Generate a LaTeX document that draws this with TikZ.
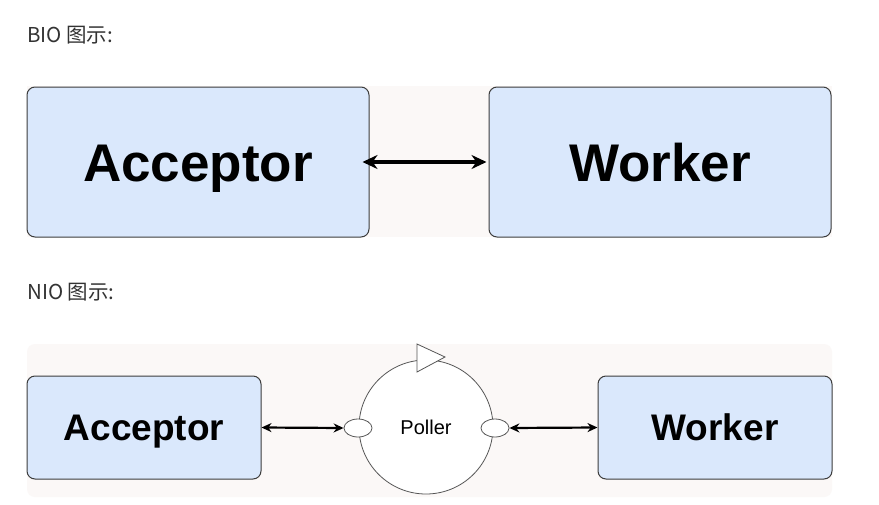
\documentclass[tikz,border=0pt]{standalone}
\usepackage{fontspec}
\setmainfont{Liberation Sans}
\newfontfamily\cjkfont{Noto Sans CJK SC}
\usetikzlibrary{arrows.meta,shapes.geometric}
\definecolor{boxfill}{HTML}{DAE8FC}
\definecolor{boxline}{HTML}{3C3C3C}
\definecolor{bgpink}{HTML}{FBF8F7}
\definecolor{txtgrey}{HTML}{333333}
\definecolor{circline}{HTML}{555555}
\tikzset{
  bigbox/.style={draw=boxline, line width=1pt, fill=boxfill, rounded corners=8pt, inner sep=0pt},
  heading/.style={anchor=base west, inner sep=0pt, text=txtgrey, font=\cjkfont\fontsize{20.5}{24}\selectfont},
  bigtext/.style={font=\bfseries\fontsize{53}{60}\selectfont, text height=38pt, text depth=0pt},
  midtext/.style={font=\bfseries\fontsize{37}{42}\selectfont, text height=26.5pt, text depth=0pt},
  bigarrow/.style={draw=black, line width=3.6pt, arrows={Stealth[length=15pt,width=14pt]-Stealth[length=15pt,width=14pt]}},
  smallarrow/.style={draw=black, line width=2.2pt, arrows={Stealth[length=10pt,width=9pt]-Stealth[length=10pt,width=9pt]}},
  port/.style={ellipse, draw=circline, line width=0.8pt, fill=white, minimum width=28pt, minimum height=18pt, inner sep=0pt}
}
\begin{document}
\begin{tikzpicture}[x=1pt, y=-1pt]
\useasboundingbox[fill=white] (0,0) rectangle (879,504);
% headings
\node[heading] (bio) at (27,42) {BIO 图示:};
\node[heading] (nio) at (27,299) {NIO 图示:};
% backgrounds
\fill[bgpink] (27,86) rectangle (832,237);
\fill[bgpink, rounded corners=8pt] (27,344) rectangle (832,497);
% BIO
\node[bigbox, bigtext, minimum width=342pt, minimum height=150pt] (acc1) at (198,162) {Acceptor};
\node[bigbox, bigtext, minimum width=342pt, minimum height=150pt] (work1) at (660,162) {Worker};
\draw[bigarrow, shorten <=-7pt, shorten >=2pt] (acc1.east) -- (work1.west);
% NIO
\node[bigbox, midtext, minimum width=234pt, minimum height=103pt] (acc2) at (144,427.5) {Acceptor};
\node[bigbox, midtext, minimum width=234pt, minimum height=103pt] (work2) at (715,427.5) {Worker};
\node[circle, draw=circline, line width=0.8pt, fill=white, minimum size=134pt, inner sep=0pt, font=\fontsize{20}{24}\selectfont] (poller) at (426,427) {Poller};
\draw[draw=circline, line width=0.8pt, fill=white] (417,344) -- (445,357) -- (417,372) -- cycle;
\node[port] (el1) at (358,428) {};
\node[port] (el2) at (495,428) {};
\draw[smallarrow] (acc2.east) -- (el1.west);
\draw[smallarrow] (el2.east) -- (work2.west);
\end{tikzpicture}
\end{document}
